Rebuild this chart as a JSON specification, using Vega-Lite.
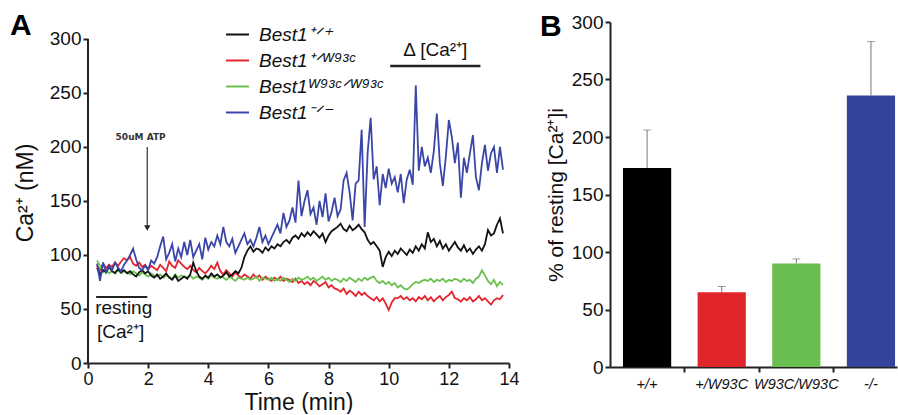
{
  "$schema": "https://vega.github.io/schema/vega-lite/v6.json",
  "background": "white",
  "padding": {"left": 10, "top": 11, "right": 0, "bottom": 0},
  "config": {
    "view": {"stroke": null},
    "font": "Liberation Sans",
    "axis": {"labelColor": "#111", "titleColor": "#111", "domainColor": "#222", "tickColor": "#222", "domainWidth": 2, "tickWidth": 2, "tickSize": 5, "grid": false, "titleFontWeight": "normal", "labelFont": "Liberation Sans", "titleFont": "Liberation Sans"}
  },
  "spacing": 20,
  "resolve": {"scale": {"color": "independent"}},
  "datasets": {
    "trace": [
{"t":0.3,"k":88,"r":90,"g":95,"b":92},
{"t":0.4,"k":82,"r":86,"g":90,"b":76},
{"t":0.5,"k":86,"r":92,"g":84,"b":93},
{"t":0.6,"k":84,"r":88,"g":86,"b":84},
{"t":0.7,"k":89,"r":91,"g":83,"b":90},
{"t":0.8,"k":85,"r":89,"g":85,"b":86},
{"t":0.9,"k":83,"r":93,"g":84,"b":93},
{"t":1.0,"k":87,"r":90,"g":86,"b":88},
{"t":1.1,"k":84,"r":94,"g":83,"b":85},
{"t":1.2,"k":86,"r":97,"g":85,"b":91},
{"t":1.3,"k":83,"r":95,"g":84,"b":95},
{"t":1.4,"k":85,"r":98,"g":82,"b":100},
{"t":1.5,"k":82,"r":92,"g":85,"b":106},
{"t":1.6,"k":80,"r":90,"g":83,"b":96},
{"t":1.7,"k":84,"r":93,"g":81,"b":88},
{"t":1.8,"k":86,"r":89,"g":84,"b":86},
{"t":1.9,"k":83,"r":91,"g":82,"b":90},
{"t":2.0,"k":85,"r":87,"g":80,"b":86},
{"t":2.1,"k":81,"r":90,"g":83,"b":95},
{"t":2.2,"k":79,"r":88,"g":81,"b":92},
{"t":2.3,"k":82,"r":86,"g":80,"b":98},
{"t":2.4,"k":78,"r":91,"g":82,"b":108},
{"t":2.5,"k":80,"r":88,"g":79,"b":117},
{"t":2.6,"k":83,"r":85,"g":81,"b":96},
{"t":2.7,"k":79,"r":94,"g":80,"b":102},
{"t":2.8,"k":77,"r":90,"g":78,"b":110},
{"t":2.9,"k":81,"r":88,"g":82,"b":94},
{"t":3.0,"k":76,"r":95,"g":79,"b":106},
{"t":3.1,"k":78,"r":92,"g":81,"b":98},
{"t":3.2,"k":80,"r":89,"g":80,"b":112},
{"t":3.3,"k":78,"r":87,"g":79,"b":100},
{"t":3.4,"k":82,"r":90,"g":81,"b":114},
{"t":3.5,"k":93,"r":86,"g":78,"b":98},
{"t":3.6,"k":85,"r":84,"g":80,"b":104},
{"t":3.7,"k":80,"r":88,"g":79,"b":110},
{"t":3.8,"k":78,"r":85,"g":77,"b":96},
{"t":3.9,"k":81,"r":83,"g":80,"b":116},
{"t":4.0,"k":79,"r":86,"g":78,"b":105},
{"t":4.1,"k":83,"r":90,"g":81,"b":112},
{"t":4.2,"k":80,"r":87,"g":79,"b":108},
{"t":4.3,"k":82,"r":93,"g":78,"b":118},
{"t":4.4,"k":79,"r":85,"g":80,"b":110},
{"t":4.5,"k":81,"r":82,"g":79,"b":126},
{"t":4.6,"k":84,"r":86,"g":77,"b":112},
{"t":4.7,"k":80,"r":83,"g":80,"b":108},
{"t":4.8,"k":82,"r":80,"g":78,"b":115},
{"t":4.9,"k":85,"r":84,"g":76,"b":102},
{"t":5.0,"k":83,"r":81,"g":79,"b":108},
{"t":5.1,"k":88,"r":79,"g":78,"b":114},
{"t":5.2,"k":98,"r":82,"g":77,"b":120},
{"t":5.3,"k":104,"r":80,"g":79,"b":110},
{"t":5.4,"k":108,"r":78,"g":77,"b":114},
{"t":5.5,"k":103,"r":82,"g":78,"b":108},
{"t":5.6,"k":106,"r":79,"g":80,"b":116},
{"t":5.7,"k":105,"r":81,"g":76,"b":126},
{"t":5.8,"k":102,"r":77,"g":79,"b":112},
{"t":5.9,"k":107,"r":80,"g":78,"b":118},
{"t":6.0,"k":104,"r":78,"g":77,"b":110},
{"t":6.1,"k":108,"r":76,"g":79,"b":116},
{"t":6.2,"k":106,"r":79,"g":76,"b":122},
{"t":6.3,"k":110,"r":77,"g":78,"b":128},
{"t":6.4,"k":108,"r":80,"g":76,"b":120},
{"t":6.5,"k":112,"r":76,"g":79,"b":139},
{"t":6.6,"k":114,"r":78,"g":77,"b":126},
{"t":6.7,"k":111,"r":77,"g":75,"b":132},
{"t":6.8,"k":116,"r":75,"g":78,"b":144},
{"t":6.9,"k":118,"r":78,"g":76,"b":130},
{"t":7.0,"k":115,"r":74,"g":79,"b":169},
{"t":7.1,"k":120,"r":76,"g":77,"b":136},
{"t":7.2,"k":117,"r":73,"g":78,"b":150},
{"t":7.3,"k":121,"r":75,"g":80,"b":160},
{"t":7.4,"k":118,"r":72,"g":77,"b":138},
{"t":7.5,"k":122,"r":76,"g":79,"b":144},
{"t":7.6,"k":119,"r":74,"g":76,"b":128},
{"t":7.7,"k":116,"r":71,"g":78,"b":150},
{"t":7.8,"k":120,"r":73,"g":80,"b":135},
{"t":7.9,"k":112,"r":75,"g":77,"b":157},
{"t":8.0,"k":118,"r":70,"g":79,"b":131},
{"t":8.1,"k":122,"r":72,"g":76,"b":140},
{"t":8.2,"k":124,"r":69,"g":78,"b":153},
{"t":8.3,"k":126,"r":68,"g":77,"b":136},
{"t":8.4,"k":129,"r":66,"g":75,"b":142},
{"t":8.5,"k":124,"r":69,"g":78,"b":169},
{"t":8.6,"k":122,"r":64,"g":76,"b":176},
{"t":8.7,"k":127,"r":67,"g":79,"b":158},
{"t":8.8,"k":123,"r":65,"g":77,"b":132},
{"t":8.9,"k":125,"r":62,"g":75,"b":166},
{"t":9.0,"k":128,"r":66,"g":78,"b":169},
{"t":9.1,"k":124,"r":63,"g":76,"b":216},
{"t":9.2,"k":121,"r":65,"g":79,"b":126},
{"t":9.3,"k":114,"r":62,"g":77,"b":195},
{"t":9.4,"k":110,"r":60,"g":79,"b":227},
{"t":9.5,"k":112,"r":58,"g":80,"b":170},
{"t":9.6,"k":108,"r":61,"g":76,"b":182},
{"t":9.7,"k":104,"r":57,"g":74,"b":146},
{"t":9.8,"k":89,"r":60,"g":76,"b":175},
{"t":9.9,"k":98,"r":55,"g":73,"b":162},
{"t":10.0,"k":103,"r":49,"g":75,"b":180},
{"t":10.1,"k":99,"r":56,"g":72,"b":166},
{"t":10.2,"k":104,"r":60,"g":74,"b":172},
{"t":10.3,"k":101,"r":60,"g":70,"b":158},
{"t":10.4,"k":106,"r":62,"g":72,"b":175},
{"t":10.5,"k":103,"r":59,"g":69,"b":148},
{"t":10.6,"k":100,"r":61,"g":68,"b":170},
{"t":10.7,"k":105,"r":58,"g":70,"b":179},
{"t":10.8,"k":102,"r":60,"g":73,"b":165},
{"t":10.9,"k":108,"r":57,"g":75,"b":257},
{"t":11.0,"k":104,"r":61,"g":74,"b":178},
{"t":11.1,"k":110,"r":59,"g":76,"b":200},
{"t":11.2,"k":106,"r":62,"g":77,"b":182},
{"t":11.3,"k":121,"r":58,"g":76,"b":190},
{"t":11.4,"k":112,"r":61,"g":78,"b":176},
{"t":11.5,"k":115,"r":57,"g":75,"b":196},
{"t":11.6,"k":108,"r":60,"g":77,"b":231},
{"t":11.7,"k":113,"r":62,"g":76,"b":185},
{"t":11.8,"k":106,"r":58,"g":78,"b":164},
{"t":11.9,"k":110,"r":61,"g":75,"b":191},
{"t":12.0,"k":104,"r":63,"g":77,"b":225},
{"t":12.1,"k":108,"r":66,"g":76,"b":209},
{"t":12.2,"k":112,"r":60,"g":78,"b":185},
{"t":12.3,"k":107,"r":59,"g":77,"b":204},
{"t":12.4,"k":104,"r":57,"g":75,"b":153},
{"t":12.5,"k":109,"r":60,"g":78,"b":190},
{"t":12.6,"k":103,"r":58,"g":76,"b":176},
{"t":12.7,"k":106,"r":61,"g":77,"b":194},
{"t":12.8,"k":101,"r":57,"g":74,"b":211},
{"t":12.9,"k":105,"r":59,"g":78,"b":172},
{"t":13.0,"k":108,"r":62,"g":80,"b":160},
{"t":13.1,"k":104,"r":58,"g":86,"b":185},
{"t":13.2,"k":110,"r":60,"g":81,"b":202},
{"t":13.3,"k":123,"r":57,"g":76,"b":178},
{"t":13.4,"k":118,"r":54,"g":73,"b":194},
{"t":13.5,"k":120,"r":58,"g":77,"b":200},
{"t":13.6,"k":128,"r":60,"g":71,"b":176},
{"t":13.7,"k":134,"r":59,"g":75,"b":200},
{"t":13.8,"k":120,"r":63,"g":72,"b":179}
    ],
    "bars": [
      {"genotype": "+/+", "pct": 173, "upper": 206},
      {"genotype": "+/W93C", "pct": 65, "upper": 70},
      {"genotype": "W93C/W93C", "pct": 90, "upper": 94},
      {"genotype": "-/-", "pct": 236, "upper": 283}
    ],
    "one": [{}]
  },
  "hconcat": [
    {
      "width": 421,
      "height": 341,
      "title": {"text": "A", "anchor": "start", "frame": "group", "fontSize": 30, "fontWeight": "bold", "color": "#000", "dx": -78, "offset": -19},
      "layer": [
        {
          "data": {"name": "trace"},
          "transform": [{"fold": ["r", "g", "k", "b"], "as": ["series", "value"]}],
          "mark": {"type": "line", "strokeWidth": 1.8},
          "encoding": {
            "x": {"field": "t", "type": "quantitative", "scale": {"domain": [0, 14], "nice": false},
                  "axis": {"title": "Time (min)", "values": [0, 2, 4, 6, 8, 10, 12, 14], "labelFlush": false, "labelFontSize": 18, "titleFontSize": 23, "labelPadding": 2, "titlePadding": 3}},
            "y": {"field": "value", "type": "quantitative", "scale": {"domain": [0, 315.7], "nice": false},
                  "axis": {"title": "Ca²⁺ (nM)", "values": [0, 50, 100, 150, 200, 250, 300], "domain": false, "labelFontSize": 19, "titleFontSize": 23, "labelPadding": 2, "titlePadding": 12}},
            "color": {"field": "series", "type": "nominal",
                      "scale": {"domain": ["k", "r", "g", "b"], "range": ["#111111", "#e2262c", "#6cc04f", "#3a46a8"]},
                      "legend": {"title": null, "orient": "none", "legendX": 137, "legendY": 0, "symbolType": "stroke", "symbolSize": 529, "symbolStrokeWidth": 2, "labelFontSize": 19, "labelFontStyle": "italic", "labelFontWeight": "normal", "labelColor": "#111", "labelOffset": 9, "rowPadding": 3,
                                 "labelExpr": "{'k':'Best1⁺ᐟ⁺','r':'Best1⁺ᐟᵂ⁹³ᶜ','g':'Best1ᵂ⁹³ᶜᐟᵂ⁹³ᶜ','b':'Best1⁻ᐟ⁻'}[datum.label]"}}
          }
        },
        {
          "data": {"name": "one"},
          "mark": {"type": "rule", "color": "#222", "strokeWidth": 2},
          "encoding": {"x": {"datum": 0}, "y": {"datum": 0}, "y2": {"datum": 300}}
        },
        {
          "data": {"name": "one"},
          "mark": {"type": "text", "text": "50uM ATP", "fontSize": 9, "fontWeight": "bold", "font": "DejaVu Sans", "color": "#333", "align": "center", "baseline": "middle"},
          "encoding": {"x": {"datum": 1.75}, "y": {"datum": 209}}
        },
        {
          "data": {"name": "one"},
          "mark": {"type": "rule", "color": "#333", "strokeWidth": 1.2},
          "encoding": {"x": {"datum": 1.97}, "y": {"datum": 200}, "y2": {"datum": 127}}
        },
        {
          "data": {"name": "one"},
          "mark": {"type": "point", "shape": "triangle-down", "filled": true, "color": "#222", "size": 40, "opacity": 1},
          "encoding": {"x": {"datum": 1.97}, "y": {"datum": 125}}
        },
        {
          "data": {"name": "one"},
          "mark": {"type": "rule", "color": "#222", "strokeWidth": 2},
          "encoding": {"x": {"datum": 0.27}, "x2": {"datum": 1.97}, "y": {"datum": 61}}
        },
        {
          "data": {"name": "one"},
          "mark": {"type": "text", "text": "resting", "fontSize": 19, "color": "#111", "align": "left", "baseline": "middle"},
          "encoding": {"x": {"datum": 0.24}, "y": {"datum": 51}}
        },
        {
          "data": {"name": "one"},
          "mark": {"type": "text", "text": "[Ca²⁺]", "fontSize": 19, "color": "#111", "align": "left", "baseline": "middle"},
          "encoding": {"x": {"datum": 0.3}, "y": {"datum": 29}}
        },
        {
          "data": {"name": "one"},
          "mark": {"type": "rule", "color": "#222", "strokeWidth": 2.5},
          "encoding": {"x": {"datum": 10.05}, "x2": {"datum": 13.05}, "y": {"datum": 275}}
        },
        {
          "data": {"name": "one"},
          "mark": {"type": "text", "text": "Δ [Ca²⁺]", "fontSize": 19, "color": "#111", "align": "center", "baseline": "middle"},
          "encoding": {"x": {"datum": 11.55}, "y": {"datum": 290}}
        }
      ]
    },
    {
      "width": 287,
      "height": 345,
      "title": {"text": "B", "anchor": "start", "frame": "group", "fontSize": 30, "fontWeight": "bold", "color": "#000", "dx": -70, "offset": -29},
      "data": {"name": "bars"},
      "encoding": {
        "x": {"field": "genotype", "type": "nominal", "sort": null,
              "scale": {"paddingInner": 0.354, "paddingOuter": 0.1, "align": 0.87},
              "axis": {"title": null, "labelAngle": 0, "labelFontSize": 14.5, "labelFontStyle": "italic", "labelPadding": 5, "bandPosition": 1.28, "domainWidth": 2}}
      },
      "layer": [
        {
          "mark": {"type": "rule", "color": "#777", "strokeWidth": 1},
          "encoding": {"y": {"field": "pct", "type": "quantitative"}, "y2": {"field": "upper"}}
        },
        {
          "mark": {"type": "tick", "color": "#777", "size": 8, "thickness": 1},
          "encoding": {"y": {"field": "upper", "type": "quantitative"}}
        },
        {
          "mark": {"type": "bar"},
          "encoding": {
            "y": {"field": "pct", "type": "quantitative", "scale": {"domain": [0, 300], "nice": false},
                  "axis": {"title": "% of resting [Ca²⁺]i", "values": [0, 50, 100, 150, 200, 250, 300], "labelFontSize": 19, "titleFontSize": 21, "labelPadding": 2, "titlePadding": 5}},
            "color": {"field": "genotype", "type": "nominal", "legend": null,
                      "scale": {"domain": ["+/+", "+/W93C", "W93C/W93C", "-/-"], "range": ["#000000", "#e0262a", "#6abd4f", "#34449b"]}}
          }
        }
      ]
    }
  ]
}
